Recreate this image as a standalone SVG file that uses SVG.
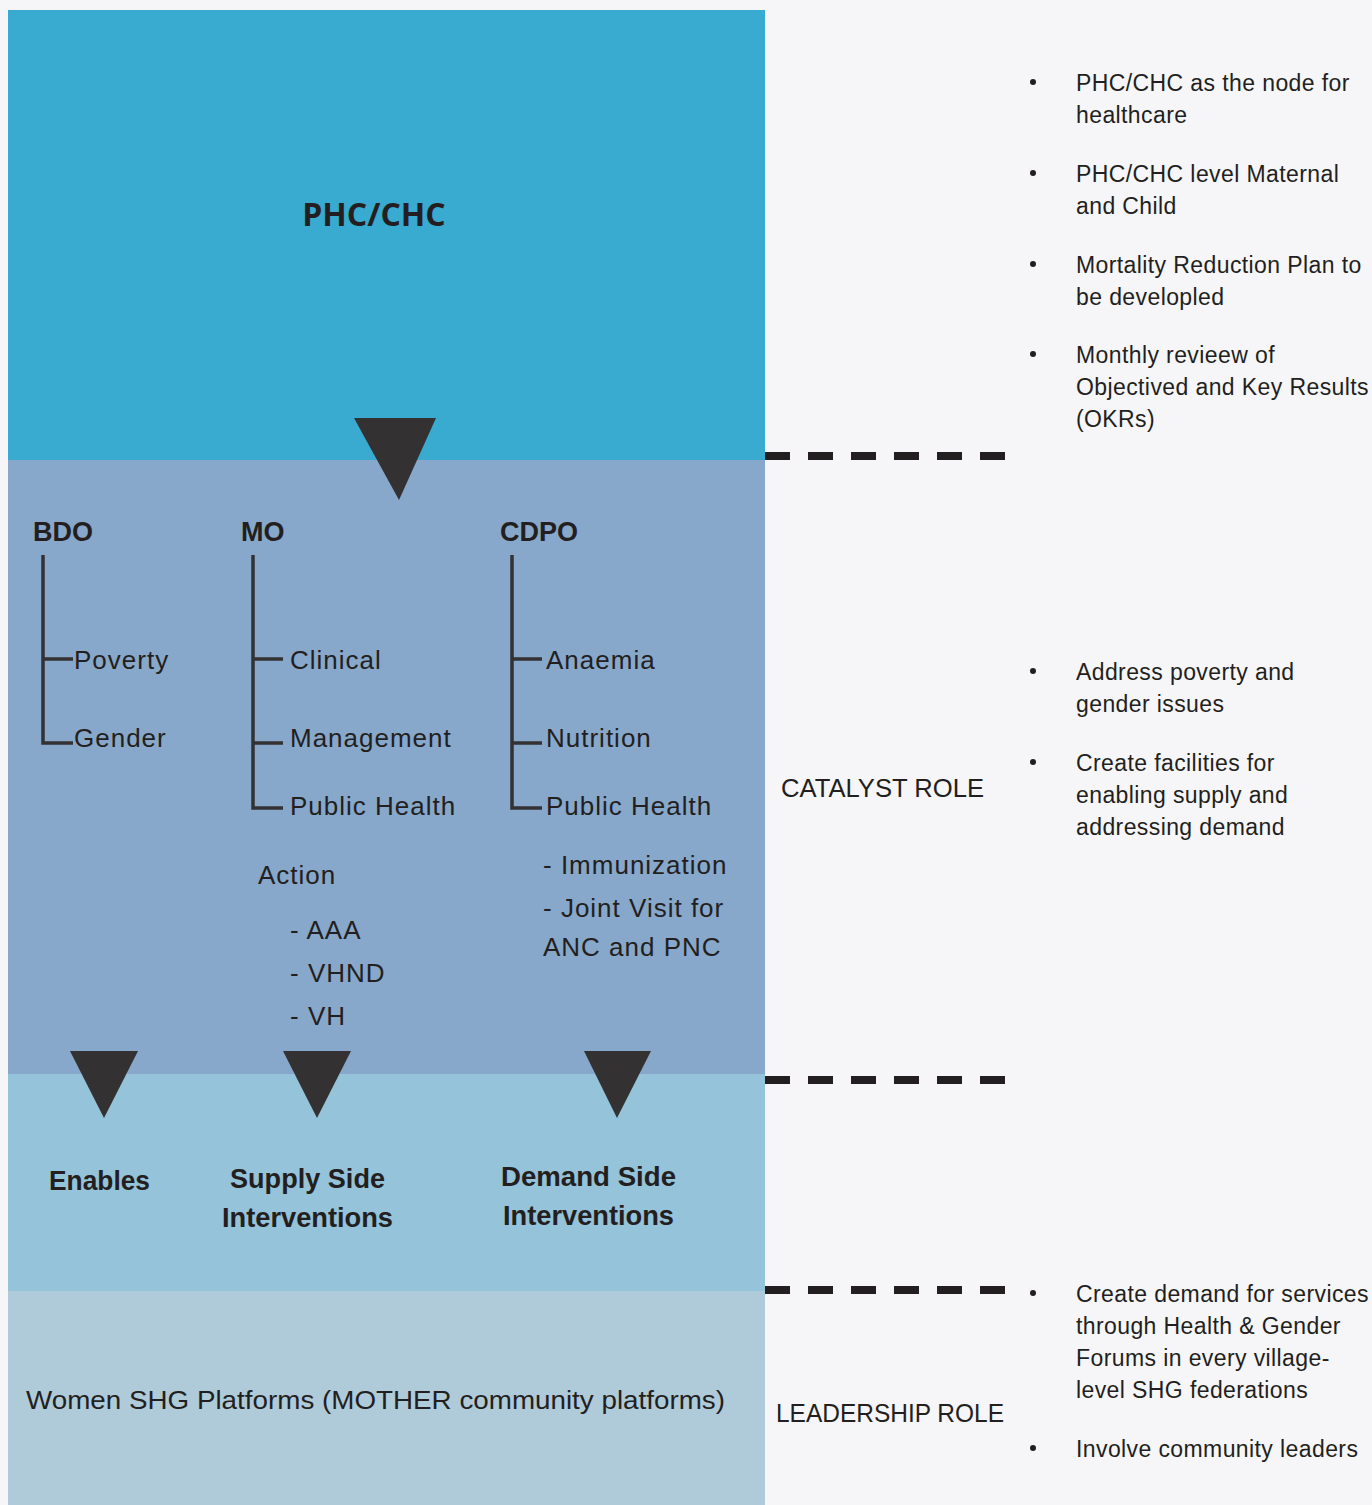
<svg xmlns="http://www.w3.org/2000/svg" width="1372" height="1505" viewBox="0 0 1372 1505">
<defs>
<style>
.t{font-family:"Liberation Sans","Noto Sans",sans-serif;font-size:26px;letter-spacing:1px;fill:#231f20}
.l{font-family:"Liberation Sans","Noto Sans",sans-serif;font-size:25px;fill:#231f20}
.r{font-family:"Liberation Sans","Noto Sans",sans-serif;font-size:23px;letter-spacing:0.4px;fill:#231f20}
.h{font-family:"Liberation Sans","Noto Sans",sans-serif;font-size:27px;font-weight:bold;fill:#231f20}
.c{font-family:"Liberation Sans","Noto Sans",sans-serif;font-size:28px;font-weight:bold;fill:#231f20}
.tree{stroke:#333132;stroke-width:3.5;fill:none}
.tri{fill:#333132}
.dash{stroke:#231f20;stroke-width:8;stroke-dasharray:25 18;fill:none}
.b{fill:#231f20}
</style>
</defs>
<rect x="0" y="0" width="1372" height="1505" fill="#f6f6f8"/>
<g id="band-phc"><rect x="8" y="10" width="757" height="450" fill="#39aad0"/>
<text x="374" y="226" text-anchor="middle" font-family="'Open Sans','Liberation Sans',sans-serif" font-size="32" font-weight="bold" fill="#231f20">PHC/CHC</text></g>
<g id="band-officers"><rect x="8" y="460" width="757" height="614" fill="#87a8ca"/></g>
<g id="band-interventions"><rect x="8" y="1074" width="757" height="217" fill="#94c3da"/></g>
<g id="band-shg"><rect x="8" y="1291" width="757" height="214" fill="#afcbda"/>
<text class="l" x="26" y="1409" textLength="699" lengthAdjust="spacingAndGlyphs">Women SHG Platforms (MOTHER community platforms)</text></g>

<g id="connectors">
<path class="tri" d="M354,418 L436,418 L399,500 Z"/>
<path class="tri" d="M70,1051 L138,1051 L104,1118 Z"/>
<path class="tri" d="M283,1051 L351,1051 L317,1118 Z"/>
<path class="tri" d="M584,1051 L651,1051 L617,1118 Z"/>
<path class="tree" d="M43,555 V743 H73 M43,659 H73"/>
<path class="tree" d="M253,555 V808 H283 M253,659 H283 M253,743 H283"/>
<path class="tree" d="M512,555 V808 H542 M512,659 H542 M512,743 H542"/>
<path class="dash" d="M765,456 H1006"/>
<path class="dash" d="M765,1080 H1006"/>
<path class="dash" d="M765,1290 H1006"/>
</g>

<g id="node-bdo">
<text class="h" x="33" y="541">BDO</text>
<text class="t" x="74" y="669">Poverty</text>
<text class="t" x="74" y="747">Gender</text>
</g>
<g id="node-mo">
<text class="h" x="241" y="541">MO</text>
<text class="t" x="290" y="669">Clinical</text>
<text class="t" x="290" y="747">Management</text>
<text class="t" x="290" y="815">Public Health</text>
<text class="t" x="258" y="884">Action</text>
<text class="t" x="290" y="939">- AAA</text>
<text class="t" x="290" y="982">- VHND</text>
<text class="t" x="290" y="1025">- VH</text>
</g>
<g id="node-cdpo">
<text class="h" x="500" y="541">CDPO</text>
<text class="t" x="546" y="669">Anaemia</text>
<text class="t" x="546" y="747">Nutrition</text>
<text class="t" x="546" y="815">Public Health</text>
<text class="t" x="543" y="874">- Immunization</text>
<text class="t" x="543" y="917">- Joint Visit for</text>
<text class="t" x="543" y="956">ANC and PNC</text>
</g>

<g id="node-enables"><text class="c" x="49" y="1190" textLength="101" lengthAdjust="spacingAndGlyphs">Enables</text></g>
<g id="node-supply">
<text class="c" x="230" y="1188" textLength="155" lengthAdjust="spacingAndGlyphs">Supply Side</text>
<text class="c" x="222" y="1227" textLength="171" lengthAdjust="spacingAndGlyphs">Interventions</text>
</g>
<g id="node-demand">
<text class="c" x="501" y="1186" textLength="175" lengthAdjust="spacingAndGlyphs">Demand Side</text>
<text class="c" x="503" y="1225" textLength="171" lengthAdjust="spacingAndGlyphs">Interventions</text>
</g>

<g id="label-catalyst"><text class="l" x="781" y="797" textLength="203" lengthAdjust="spacingAndGlyphs">CATALYST ROLE</text></g>
<g id="label-leadership"><text class="l" x="776" y="1422" textLength="228" lengthAdjust="spacingAndGlyphs">LEADERSHIP ROLE</text></g>

<g id="notes-phc">
<circle class="b" cx="1033" cy="82" r="3"/>
<text class="r" x="1076" y="91">PHC/CHC as the node for</text>
<text class="r" x="1076" y="123">healthcare</text>
<circle class="b" cx="1033" cy="173" r="3"/>
<text class="r" x="1076" y="182">PHC/CHC level Maternal</text>
<text class="r" x="1076" y="214">and Child</text>
<circle class="b" cx="1033" cy="264" r="3"/>
<text class="r" x="1076" y="273">Mortality Reduction Plan to</text>
<text class="r" x="1076" y="305">be developled</text>
<circle class="b" cx="1033" cy="354" r="3"/>
<text class="r" x="1076" y="363">Monthly revieew of</text>
<text class="r" x="1076" y="395">Objectived and Key Results</text>
<text class="r" x="1076" y="427">(OKRs)</text>
</g>
<g id="notes-catalyst">
<circle class="b" cx="1033" cy="671" r="3"/>
<text class="r" x="1076" y="680">Address poverty and</text>
<text class="r" x="1076" y="712">gender issues</text>
<circle class="b" cx="1033" cy="762" r="3"/>
<text class="r" x="1076" y="771">Create facilities for</text>
<text class="r" x="1076" y="803">enabling supply and</text>
<text class="r" x="1076" y="835">addressing demand</text>
</g>
<g id="notes-leadership">
<circle class="b" cx="1033" cy="1293" r="3"/>
<text class="r" x="1076" y="1302">Create demand for services</text>
<text class="r" x="1076" y="1334">through Health &amp; Gender</text>
<text class="r" x="1076" y="1366">Forums in every village-</text>
<text class="r" x="1076" y="1398">level SHG federations</text>
<circle class="b" cx="1033" cy="1448" r="3"/>
<text class="r" x="1076" y="1457">Involve community leaders</text>
</g>
</svg>
